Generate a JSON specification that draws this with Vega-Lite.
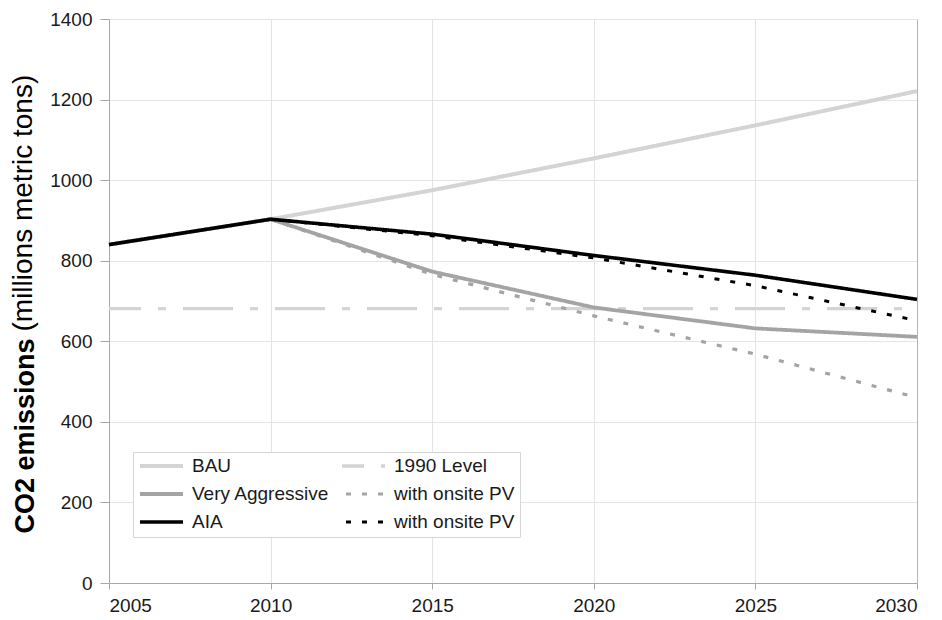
{
  "$schema": "https://vega.github.io/schema/vega-lite/v6.json",
  "width": 808,
  "height": 564,
  "autosize": {"type": "none"},
  "padding": {"left": 109, "top": 19, "right": 25, "bottom": 37},
  "background": "white",
  "view": {"stroke": null},
  "config": {
    "font": "Liberation Sans",
    "axis": {
      "labelFont": "Liberation Sans",
      "labelFontSize": 19,
      "labelColor": "#1a1a1a",
      "gridColor": "#e4e4e4",
      "gridWidth": 1,
      "domainColor": "#a8a8a8",
      "tickColor": "#a8a8a8",
      "titleFont": "Liberation Sans",
      "titleColor": "#000000"
    },
    "legend": {
      "labelFont": "Liberation Sans",
      "labelFontSize": 19,
      "labelColor": "#1a1a1a"
    }
  },
  "datasets": {
    "scenarios": [
      {"series": "BAU", "year": 2005, "value": 840},
      {"series": "BAU", "year": 2010, "value": 903},
      {"series": "BAU", "year": 2015, "value": 975},
      {"series": "BAU", "year": 2020, "value": 1054},
      {"series": "BAU", "year": 2025, "value": 1136},
      {"series": "BAU", "year": 2030, "value": 1221},
      {"series": "Very Aggressive", "year": 2005, "value": 840},
      {"series": "Very Aggressive", "year": 2010, "value": 903},
      {"series": "Very Aggressive", "year": 2015, "value": 773},
      {"series": "Very Aggressive", "year": 2020, "value": 684},
      {"series": "Very Aggressive", "year": 2025, "value": 632},
      {"series": "Very Aggressive", "year": 2030, "value": 611},
      {"series": "Very Aggressive with onsite PV", "year": 2010, "value": 903},
      {"series": "Very Aggressive with onsite PV", "year": 2015, "value": 766},
      {"series": "Very Aggressive with onsite PV", "year": 2020, "value": 663},
      {"series": "Very Aggressive with onsite PV", "year": 2025, "value": 568},
      {"series": "Very Aggressive with onsite PV", "year": 2030, "value": 460},
      {"series": "AIA with onsite PV", "year": 2010, "value": 903},
      {"series": "AIA with onsite PV", "year": 2015, "value": 862},
      {"series": "AIA with onsite PV", "year": 2020, "value": 807},
      {"series": "AIA with onsite PV", "year": 2025, "value": 738},
      {"series": "AIA with onsite PV", "year": 2030, "value": 651},
      {"series": "AIA", "year": 2005, "value": 840},
      {"series": "AIA", "year": 2010, "value": 903},
      {"series": "AIA", "year": 2015, "value": 866},
      {"series": "AIA", "year": 2020, "value": 813},
      {"series": "AIA", "year": 2025, "value": 764},
      {"series": "AIA", "year": 2030, "value": 704}
    ],
    "reference": [
      {"series": "1990 Level", "year": 2005, "value": 681},
      {"series": "1990 Level", "year": 2030, "value": 681}
    ]
  },
  "encoding": {
    "x": {
      "field": "year",
      "type": "quantitative",
      "scale": {"domain": [2005, 2030], "nice": false, "zero": false},
      "axis": {
        "title": null,
        "values": [2005, 2010, 2015, 2020, 2025, 2030],
        "format": "d",
        "grid": true,
        "tickSize": 6,
        "labelPadding": 7
      }
    },
    "color": {
      "field": "series",
      "type": "nominal",
      "scale": {
        "domain": ["BAU", "Very Aggressive", "AIA", "1990 Level", "Very Aggressive with onsite PV", "AIA with onsite PV"],
        "range": ["#d4d4d4", "#a4a4a4", "#000000", "#d4d4d4", "#a4a4a4", "#000000"]
      },
      "legend": {
        "title": null,
        "orient": "none",
        "legendX": 24,
        "legendY": 433,
        "columns": 2,
        "symbolType": "stroke",
        "symbolSize": 1849,
        "symbolDashOffset": 28,
        "labelOffset": 7,
        "columnPadding": 5,
        "rowPadding": 9,
        "padding": 5,
        "strokeColor": "#d6d6d6",
        "fillColor": "#ffffff",
        "labelExpr": "indexof(datum.label, 'with onsite PV') > 0 ? 'with onsite PV' : datum.label",
        "encoding": {
          "symbols": {
            "y": {"value": 9}
          },
          "labels": {
            "y": {"value": 9}
          }
        }
      }
    },
    "strokeDash": {
      "field": "series",
      "type": "nominal",
      "scale": {
        "domain": ["BAU", "Very Aggressive", "AIA", "1990 Level", "Very Aggressive with onsite PV", "AIA with onsite PV"],
        "range": [[1, 0], [1, 0], [1, 0], [50, 17, 8, 17], [5, 11], [5, 11]]
      }
    },
    "strokeWidth": {
      "field": "series",
      "type": "nominal",
      "scale": {
        "domain": ["BAU", "Very Aggressive", "AIA", "1990 Level", "Very Aggressive with onsite PV", "AIA with onsite PV"],
        "range": [4, 3, 3, 4, 3, 3.5]
      }
    }
  },
  "layer": [
    {
      "data": {"name": "reference"},
      "mark": {"type": "line", "strokeDashOffset": 18},
      "encoding": {
        "y": {
          "field": "value",
          "type": "quantitative",
          "scale": {"domain": [0, 1400], "nice": false},
          "axis": {
            "orient": "right",
            "grid": false,
            "labels": false,
            "ticks": false,
            "domain": true,
            "domainColor": "#b4b4b4",
            "title": "(millions metric tons)",
            "titleFontSize": 28,
            "titleFontWeight": "normal",
            "titleAngle": 270,
            "titleAlign": "left",
            "titleBaseline": "alphabetic",
            "titleX": -886,
            "titleY": 312
          }
        }
      }
    },
    {
      "data": {"name": "scenarios"},
      "mark": {"type": "line"},
      "encoding": {
        "y": {
          "field": "value",
          "type": "quantitative",
          "scale": {"domain": [0, 1400], "nice": false},
          "axis": {
            "orient": "left",
            "values": [0, 200, 400, 600, 800, 1000, 1200, 1400],
            "format": "d",
            "grid": true,
            "tickSize": 9,
            "labelPadding": 8,
            "title": "CO2 emissions",
            "titleFontSize": 27,
            "titleFontWeight": "bold",
            "titleAngle": 270,
            "titleAlign": "left",
            "titleBaseline": "alphabetic",
            "titleX": -76,
            "titleY": 514
          }
        }
      }
    }
  ],
  "resolve": {"axis": {"y": "independent"}}
}
